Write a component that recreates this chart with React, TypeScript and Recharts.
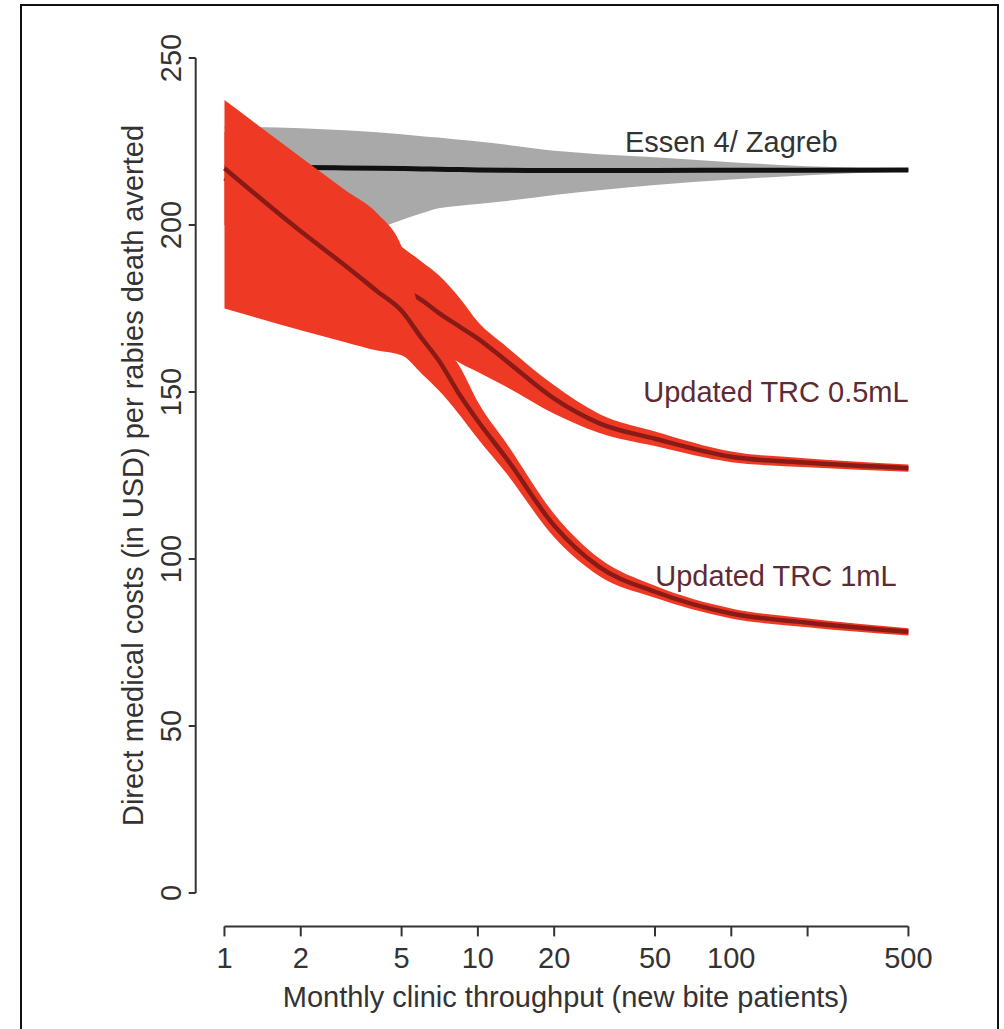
// Cost per rabies death averted vs clinic throughput — R-style log plot
// rebuilt with Recharts. Bands are [low, high] range areas; the centre lines
// are unfilled Areas too, so the paint order follows the children order
// (Recharts would otherwise lift every Line above every Area).

import {
  ComposedChart, Area, XAxis, YAxis, ReferenceLine, ReferenceDot,
} from 'recharts';

const FONT = '"Liberation Sans", Arial, Helvetica, sans-serif';
const INK = '#333333';
const GREY_BAND = '#a9a9a9';
const RED_BAND = '#ee3a24';
const RED_LINE = '#8a1a16';
const RED_TEXT = '#5e2a33';

// Monthly clinic throughput (new bite patients)
const THROUGHPUT = [1, 2, 3, 4, 5, 6, 7, 8.5, 10, 13, 20, 30, 50, 100, 200, 500];

// Essen 4 / Zagreb (the low end is hidden under the red bands)
const ESSEN_MID = [217.2, 217.2, 217.1, 217.0, 216.9, 216.8, 216.7, 216.6, 216.5, 216.4, 216.3, 216.3, 216.3, 216.4, 216.4, 216.5];
const ESSEN_LO = [229, 200, 198, 199, 201.5, 203.5, 205, 205.8, 206.3, 207.2, 209, 210.4, 212, 213.6, 214.9, 216];
const ESSEN_HI = [229.5, 229, 228.4, 227.8, 227.2, 226.6, 226.2, 225.5, 225, 224, 222.2, 221.2, 220.3, 218.8, 217.6, 216.9];

// Updated TRC 0.5mL
const TRC05_MID = [214, 200, 191, 185, 181, 177.5, 173.7, 169.5, 166, 159.2, 148, 140.7, 136, 130.6, 128.8, 127.2];
const TRC05_LO = [200, 190, 182, 176, 170, 168, 163, 158.7, 156, 151.5, 143.5, 137.8, 133.8, 129, 127.5, 126.1];
const TRC05_HI = [228, 214, 205, 199, 193.5, 189, 185, 178, 171, 163.5, 152, 143.5, 138.2, 132.2, 130.1, 128.3];

// Updated TRC 1mL
const TRC1_MID = [217, 198.1, 187.8, 180.2, 174.3, 166.1, 159.5, 149, 141.3, 130, 110, 97.7, 90.2, 83.7, 80.9, 78.2];
const TRC1_LO = [175, 168.5, 164.9, 162.4, 161, 155.5, 150.5, 143, 136, 125.5, 106.5, 95, 88.4, 82.2, 79.6, 77.1];
const TRC1_HI = [237.4, 220.3, 210.4, 203.5, 193.5, 173, 166, 157.5, 147, 134.5, 113.5, 100.3, 92, 85.2, 82.2, 79.3];

const X_TICKS = [1, 2, 5, 10, 20, 50, 100, 200, 500];
const X_TICK_LABELS = ['1', '2', '5', '10', '20', '50', '100', '', '500'];
const Y_TICKS = [0, 50, 100, 150, 200, 250];

// R pads the data range by 4% on each side
const X_DOMAIN: [number, number] = [0.77, 640];
const Y_DOMAIN: [number, number] = [-10, 260];

const rows = THROUGHPUT.map((x, i) => ({
  x,
  essenMid: ESSEN_MID[i], essenLo: ESSEN_LO[i], essenHi: ESSEN_HI[i],
  t05Mid: TRC05_MID[i], t05Lo: TRC05_LO[i], t05Hi: TRC05_HI[i],
  t1Mid: TRC1_MID[i], t1Lo: TRC1_LO[i], t1Hi: TRC1_HI[i],
}));
type Row = typeof rows[number];

function YTick({ x, y, payload }: { x?: number; y?: number; payload?: { value: number } }) {
  return (
    <text x={x} y={y} transform={`rotate(-90, ${x}, ${y})`} textAnchor="middle" fontSize={29} fill={INK} fontFamily={FONT}>
      {payload?.value}
    </text>
  );
}

function YTitle({ viewBox }: { viewBox?: { x: number; y: number; width: number; height: number } }) {
  const vb = viewBox ?? { x: 0, y: 24.6, width: 195.7, height: 901.8 };
  const cx = vb.x + 143;
  const cy = vb.y + vb.height / 2;
  return (
    <text x={cx} y={cy} transform={`rotate(-90, ${cx}, ${cy})`} textAnchor="middle" fontSize={29} fill={INK} fontFamily={FONT}>
      Direct medical costs (in USD) per rabies death averted
    </text>
  );
}

function XTitle({ viewBox }: { viewBox?: { x: number; y: number; width: number; height: number } }) {
  const vb = viewBox ?? { x: 195.7, y: 926.4, width: 739.9, height: 102.6 };
  return (
    <text x={vb.x + vb.width / 2} y={vb.y + 80.6} textAnchor="middle" fontSize={29} fill={INK} fontFamily={FONT}>
      Monthly clinic throughput (new bite patients)
    </text>
  );
}

const noteLabel = (value: string, fill: string) => ({
  value, position: 'center' as const, fontSize: 29, fill, fontFamily: FONT,
});

function band(key: string, lo: keyof Row, hi: keyof Row, fill: string) {
  return (
    <Area key={key} type="monotoneX" dataKey={(d: Row) => [d[lo], d[hi]]} stroke="none" fill={fill} fillOpacity={1}
      dot={false} activeDot={false} isAnimationActive={false} />
  );
}

function centreLine(key: keyof Row, stroke: string, width: number) {
  return (
    <Area key={key} type="monotoneX" dataKey={key} stroke={stroke} strokeWidth={width} fill="none"
      dot={false} activeDot={false} isAnimationActive={false} />
  );
}

export default function App() {
  return (
    <div style={{ position: 'absolute', left: 0, top: 0, width: 1004, height: 1029, overflow: 'hidden', background: '#fff' }}>
      <div style={{ position: 'absolute', left: 20, top: 4, width: 975, height: 1100, border: '2px solid #111' }} />
      <div style={{ position: 'absolute', left: 0, top: 0 }}>
        <ComposedChart width={1004} height={1029} data={rows} margin={{ top: 24.6, right: 68.4, bottom: 0, left: 0 }} style={{ fontFamily: FONT }}>
          <XAxis
            type="number" dataKey="x" scale="log" domain={X_DOMAIN} allowDataOverflow
            ticks={X_TICKS} interval={0} tickFormatter={(v: number) => X_TICK_LABELS[X_TICKS.indexOf(v)] ?? ''}
            height={102.6} axisLine={false} tickSize={10} tickMargin={11}
            tickLine={{ stroke: INK, strokeWidth: 2 }}
            tick={{ fontSize: 29, fill: INK, fontFamily: FONT }}
            label={<XTitle />}
          />
          <YAxis
            type="number" domain={Y_DOMAIN} allowDataOverflow ticks={Y_TICKS} interval={0}
            width={195.7} axisLine={false} tickSize={7} tickMargin={8}
            tickLine={{ stroke: INK, strokeWidth: 2 }}
            tick={<YTick />}
            label={<YTitle />}
          />

          <ReferenceLine segment={[{ x: 1, y: -10 }, { x: 500, y: -10 }]} stroke={INK} strokeWidth={2} ifOverflow="visible" />
          <ReferenceLine segment={[{ x: X_DOMAIN[0], y: 0 }, { x: X_DOMAIN[0], y: 250 }]} stroke={INK} strokeWidth={2} ifOverflow="visible" />

          {band('essenBand', 'essenLo', 'essenHi', GREY_BAND)}
          {centreLine('essenMid', '#111', 5)}
          {band('t05Band', 't05Lo', 't05Hi', RED_BAND)}
          {centreLine('t05Mid', RED_LINE, 4.5)}
          {band('t1Band', 't1Lo', 't1Hi', RED_BAND)}
          {centreLine('t1Mid', RED_LINE, 4.5)}

          <ReferenceDot x={100} y={225} r={1} fill="none" stroke="none" label={noteLabel('Essen 4/ Zagreb', INK)} />
          <ReferenceDot x={150} y={150} r={1} fill="none" stroke="none" label={noteLabel('Updated TRC 0.5mL', RED_TEXT)} />
          <ReferenceDot x={150} y={95} r={1} fill="none" stroke="none" label={noteLabel('Updated TRC 1mL', RED_TEXT)} />
        </ComposedChart>
      </div>
    </div>
  );
}
